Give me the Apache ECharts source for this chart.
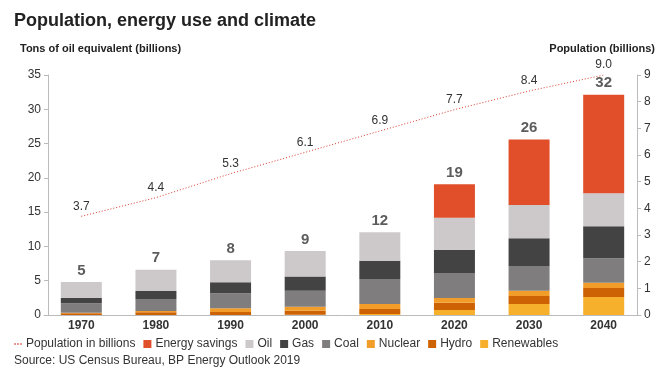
<!DOCTYPE html>
<html>
<head>
<meta charset="utf-8">
<script src="https://cdn.jsdelivr.net/npm/echarts@6/dist/echarts.min.js"></script>
<style>
  html, body { margin: 0; padding: 0; background: #fff; }
  #chart { width: 670px; height: 377px; }
</style>
</head>
<body>
<div id="chart"></div>
<script>
const years = ['1970', '1980', '1990', '2000', '2010', '2020', '2030', '2040']
// tons of oil equivalent (billions)
const renewables = [0, 0, 0, 0.05, 0.15, 0.73, 1.6, 2.63]
const hydro = [0.25, 0.39, 0.44, 0.58, 0.72, 1.07, 1.17, 1.31]
const nuclear = [0.08, 0.19, 0.53, 0.58, 0.73, 0.68, 0.78, 0.78]
const coal = [1.37, 1.75, 2.19, 2.34, 3.65, 3.64, 3.6, 3.54]
const gas = [0.8, 1.17, 1.61, 2.05, 2.67, 3.41, 4.03, 4.67]
const oil = [2.3, 3.1, 3.23, 3.73, 4.13, 4.67, 4.86, 4.82]
const savings = [0, 0, 0, 0, 0, 4.86, 9.56, 14.37]
const population = [3.7, 4.4, 5.3, 6.1, 6.9, 7.7, 8.4, 9.0]

const font = 'Liberation Sans, Arial, sans-serif'
const totals = years.map((y, i) =>
  renewables[i] + hydro[i] + nuclear[i] + coal[i] + gas[i] + oil[i] + savings[i]
)

const chart = echarts.init(document.getElementById('chart'))

function barSeries(name, data, color) {
  return {
    name: name,
    type: 'bar',
    stack: 'energy',
    barWidth: 41,
    data: data,
    itemStyle: { color: color },
  }
}

let option = {
  animation: false,
  textStyle: { fontFamily: font },
  title: {
    text: 'Population, energy use and climate',
    left: 9,
    top: 7,
    textStyle: { fontSize: 18, fontWeight: 'bold', color: '#222', fontFamily: font },
  },
  legend: {
    left: 9,
    top: 333,
    itemWidth: 8,
    itemHeight: 8,
    itemGap: 8,
    icon: 'rect',
    textStyle: { fontSize: 12, color: '#333', padding: [0, 0, 0, -1] },
    data: [
      { name: 'Population in billions', icon: 'path://M0,4h2v1h-2zM3,4h2v1h-2zM6,4h2v1h-2z' },
      'Energy savings', 'Oil', 'Gas', 'Coal', 'Nuclear', 'Hydro', 'Renewables',
    ],
  },
  graphic: [
    {
      type: 'text',
      left: 14,
      top: 355,
      style: { text: 'Source: US Census Bureau, BP Energy Outlook 2019', fill: '#333', font: '12px ' + font },
    },
  ],
  grid: {
    left: 44,
    right: 29,
    top: 75,
    bottom: 62,
  },
  xAxis: {
    type: 'category',
    data: years,
    axisLine: { lineStyle: { color: '#bbb' } },
    axisTick: { show: false },
    axisLabel: { color: '#333', fontSize: 12, fontWeight: 'bold', margin: 5 },
  },
  yAxis: [
    {
      type: 'value',
      name: 'Tons of oil equivalent (billions)',
      nameLocation: 'end',
      nameGap: 21,
      nameTextStyle: { align: 'left', fontSize: 11, fontWeight: 'bold', color: '#222', padding: [0, 0, 0, -28] },
      min: 0,
      max: 35,
      interval: 5,
      offset: -4,
      splitLine: { show: false },
      axisLine: { show: true, lineStyle: { color: '#bbb' } },
      axisTick: { show: true, length: 4, lineStyle: { color: '#bbb' } },
      axisLabel: { color: '#333', fontSize: 12, margin: 7 },
    },
    {
      type: 'value',
      name: 'Population (billions)',
      nameLocation: 'end',
      nameGap: 21,
      nameTextStyle: { align: 'right', fontSize: 11, fontWeight: 'bold', color: '#222', padding: [0, -18, 0, 0] },
      min: 0,
      max: 9,
      interval: 1,
      offset: -4,
      splitLine: { show: false },
      axisLine: { show: true, lineStyle: { color: '#bbb' } },
      axisTick: { show: true, length: 4, lineStyle: { color: '#bbb' } },
      axisLabel: { color: '#333', fontSize: 12, margin: 7 },
    },
  ],
  series: [
    barSeries('Renewables', renewables, '#f7b02c'),
    barSeries('Hydro', hydro, '#cd6204'),
    barSeries('Nuclear', nuclear, '#f29c2a'),
    barSeries('Coal', coal, '#7f7d7d'),
    barSeries('Gas', gas, '#444343'),
    barSeries('Oil', oil, '#cdc9cb'),
    barSeries('Energy savings', savings, '#e04f2a'),
    {
      name: 'totals',
      type: 'scatter',
      data: totals,
      symbolSize: 0,
      silent: true,
      label: {
        show: true,
        position: 'top',
        distance: 4,
        fontSize: 15,
        fontWeight: 'bold',
        color: '#333',
        formatter: (p) => Math.round(p.value),
      },
    },
    {
      name: 'Population in billions',
      type: 'line',
      yAxisIndex: 1,
      data: population,
      symbol: 'circle',
      symbolSize: 0,
      showSymbol: true,
      lineStyle: { color: '#d9392b', width: 1, type: [1, 2] },
      itemStyle: { color: '#d9392b' },
      label: {
        show: true,
        position: 'top',
        distance: 4,
        fontSize: 12,
        color: '#333',
        formatter: (p) => p.value.toFixed(1),
      },
    },
  ],
}
chart.setOption(option)
</script>
</body>
</html>
